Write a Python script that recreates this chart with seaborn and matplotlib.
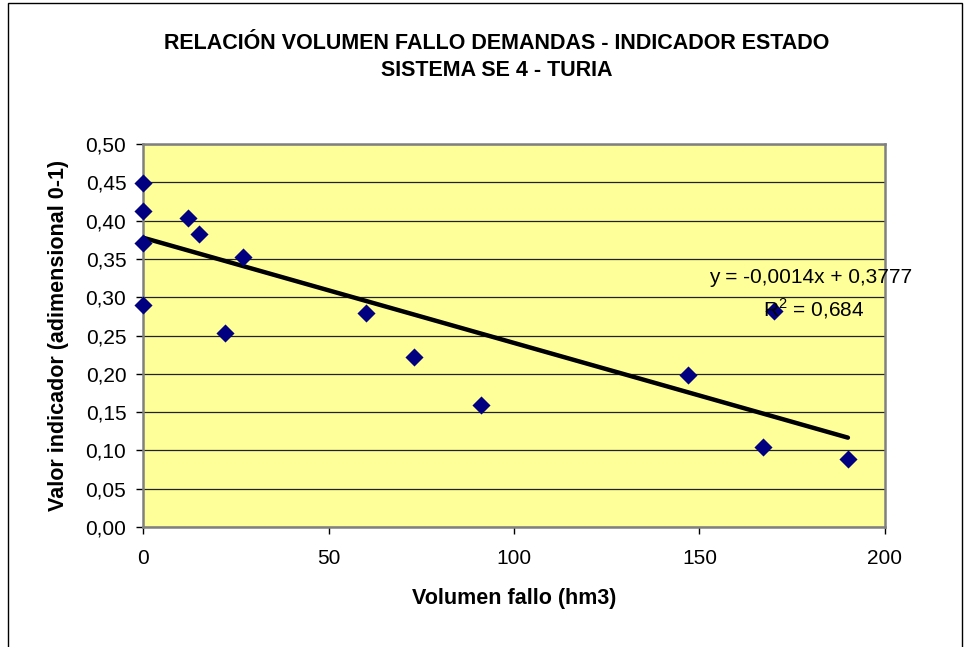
import numpy as np
import pandas as pd
import seaborn as sns
import matplotlib.pyplot as plt
from matplotlib.patches import Rectangle
from matplotlib.ticker import FuncFormatter, MultipleLocator

# volumen fallo (hm3) vs valor indicador
volumen = [0, 0, 0, 0, 12, 15, 22, 27, 60, 73, 91, 147, 167, 170, 190]
indicador = [0.449, 0.413, 0.371, 0.290, 0.403, 0.383, 0.253, 0.353,
             0.279, 0.222, 0.159, 0.198, 0.105, 0.282, 0.089]
df = pd.DataFrame({'volumen': volumen, 'indicador': indicador})

# linea de tendencia (Excel)
pendiente = -0.001374
intercepto = 0.3777

titulo = 'RELACIÓN VOLUMEN FALLO DEMANDAS - INDICADOR ESTADO\nSISTEMA SE 4 - TURIA'
ecuacion = 'y = -0,0014x + 0,3777'
r2 = 'R$^2$ = 0,684'

sns.set_style('white')
plt.rcParams['font.family'] = ['Liberation Sans', 'DejaVu Sans']
plt.rcParams['mathtext.fontset'] = 'custom'
plt.rcParams['mathtext.rm'] = 'Liberation Sans'
for k in ['text.color', 'axes.labelcolor', 'xtick.color', 'ytick.color']:
    plt.rcParams[k] = 'black'

fig = plt.figure(figsize=(9.7, 6.47), dpi=100)
ax = fig.add_axes([143/970, 1-527/647, 742/970, 383/647])
ax.set_facecolor('#FFFF99')

ax.set_xlim(0, 200)
ax.set_ylim(0, 0.5)
ax.yaxis.set_major_locator(MultipleLocator(0.05))
ax.xaxis.set_major_locator(MultipleLocator(50))
ax.yaxis.set_major_formatter(FuncFormatter(lambda v, p: f'{v:.2f}'.replace('.', ',')))
ax.grid(axis='y', color='#222222', lw=0.9)
ax.set_axisbelow(True)

xt = np.array([min(volumen), max(volumen)])
tend = pd.DataFrame({'x': xt, 'y': intercepto + pendiente * xt})
sns.lineplot(data=tend, x='x', y='y', color='black', lw=3.2,
             solid_capstyle='round', ax=ax)
sns.scatterplot(data=df, x='volumen', y='indicador', marker='D', s=85,
                color='#000080', edgecolor='#000080', linewidth=0, ax=ax,
                zorder=3, clip_on=False)

for sp in ax.spines.values():
    sp.set_color('#808080')
    sp.set_linewidth(1.8)
ax.tick_params(axis='both', direction='out', length=5, width=1, color='black',
               labelsize=15, left=True, bottom=True)
ax.tick_params(axis='x', pad=11)
ax.tick_params(axis='y', pad=7)

ax.set_xlabel('Volumen fallo (hm3)', fontsize=15.5, fontweight='bold', labelpad=14)
ax.set_ylabel('Valor indicador (adimensional 0-1)', fontsize=15.5,
              fontweight='bold', labelpad=12)

ax.text(152.5, 0.3255, ecuacion, fontsize=15, va='center', ha='left', clip_on=False)
ax.text(167.1, 0.285, r2, fontsize=15, va='center', ha='left', clip_on=False)

fig.text(497/970, 1-57/647, titulo, ha='center', va='center', fontsize=15.5,
         fontweight='bold', linespacing=1.35)

fig.patches.append(Rectangle((8/970, -0.01), 954/970, 1 - 3/647 + 0.01,
                             transform=fig.transFigure, fill=False,
                             edgecolor='black', lw=1))

fig.savefig('out.png', dpi=100)
